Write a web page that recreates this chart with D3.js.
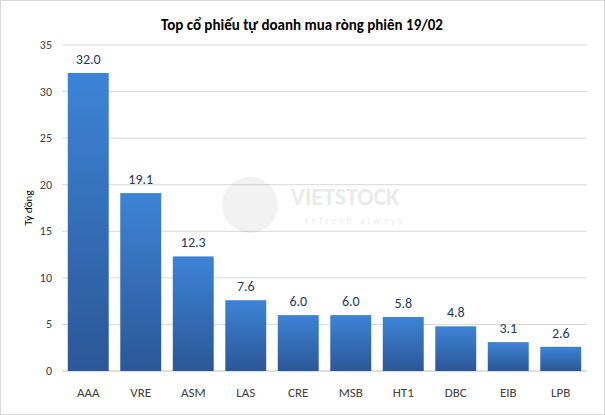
<!DOCTYPE html>
<html><head><meta charset="utf-8">
<script src="https://cdn.jsdelivr.net/npm/d3@7"></script>
<style>body{margin:0;background:#fff}</style>
</head><body><div id="chart"></div>
<script>
var categories = ["AAA","VRE","ASM","LAS","CRE","MSB","HT1","DBC","EIB","LPB"];
var values     = [32.0, 19.1, 12.3, 7.6, 6.0, 6.0, 5.8, 4.8, 3.1, 2.6];
var yTicks     = [0,5,10,15,20,25,30,35];

var width = 605, height = 415;
var svg = d3.select("#chart").append("svg")
            .attr("width", width).attr("height", height)
            .style("font-family", "Calibri, Carlito, 'Liberation Sans', Arial, sans-serif");

svg.append("rect").attr("x",0.5).attr("y",0.5).attr("width",width-1).attr("height",height-1)
   .attr("fill","#fff").attr("stroke","#d9d9d9");

var defs = svg.append("defs");
var grad = defs.append("linearGradient").attr("id","barGrad")
               .attr("x1",0).attr("y1",0).attr("x2",0).attr("y2",1);
grad.append("stop").attr("offset","0%").attr("stop-color","#3d84d6");
grad.append("stop").attr("offset","100%").attr("stop-color","#2b5797");

var x = d3.scaleBand().domain(categories).range([62, 587]).paddingInner(0.22).paddingOuter(0.11);
var y = d3.scaleLinear().domain([0,35]).range([371, 45]);

// grid
svg.append("g").selectAll("line").data(yTicks).enter().append("line")
   .attr("x1",62).attr("x2",587)
   .attr("y1",function(d){return y(d);}).attr("y2",function(d){return y(d);})
   .attr("stroke",function(d){return d===0 ? "#bfbfbf" : "#d9d9d9";});

// y labels
svg.append("g").selectAll("text").data(yTicks).enter().append("text")
   .attr("x",52).attr("y",function(d){return y(d)+4;})
   .attr("text-anchor","end").attr("font-size",12).attr("fill","#404040")
   .text(function(d){return d;});

// watermark
svg.append("circle").attr("cx",250).attr("cy",205).attr("r",28).attr("fill","#000").attr("opacity",0.05);
svg.append("text").attr("x",345).attr("y",205).attr("text-anchor","middle")
   .attr("font-size",24).attr("font-weight","bold").attr("fill","#000").attr("opacity",0.08)
   .text("VIETSTOCK");
svg.append("text").attr("x",355).attr("y",224).attr("text-anchor","middle")
   .attr("font-size",10).attr("letter-spacing",3).attr("fill","#000").attr("opacity",0.08)
   .text("refresh always");

// bars
svg.append("g").selectAll("rect").data(values).enter().append("rect")
   .attr("x",function(d,i){return x(categories[i]);})
   .attr("y",function(d){return y(d);})
   .attr("width",x.bandwidth())
   .attr("height",function(d){return y(0)-y(d);})
   .attr("fill","url(#barGrad)");

// value labels
svg.append("g").selectAll("text").data(values).enter().append("text")
   .attr("x",function(d,i){return x(categories[i])+x.bandwidth()/2;})
   .attr("y",function(d){return y(d)-9;})
   .attr("text-anchor","middle").attr("font-size",14).attr("fill","#1f3864")
   .text(function(d){return d.toFixed(1);});

// x labels
svg.append("g").selectAll("text").data(categories).enter().append("text")
   .attr("x",function(d){return x(d)+x.bandwidth()/2;})
   .attr("y",397).attr("text-anchor","middle").attr("font-size",13).attr("fill","#404040")
   .text(function(d){return d;});

// title
svg.append("text").attr("x",302).attr("y",30).attr("text-anchor","middle")
   .attr("font-size",15).attr("font-weight","bold").attr("fill","#000")
   .text("Top cổ phiếu tự doanh mua ròng phiên 19/02");

// y axis title
svg.append("text").attr("transform","translate(32,208) rotate(-90)")
   .attr("text-anchor","middle").attr("font-size",11).attr("fill","#000")
   .text("Tỷ đồng");
</script></body></html>
